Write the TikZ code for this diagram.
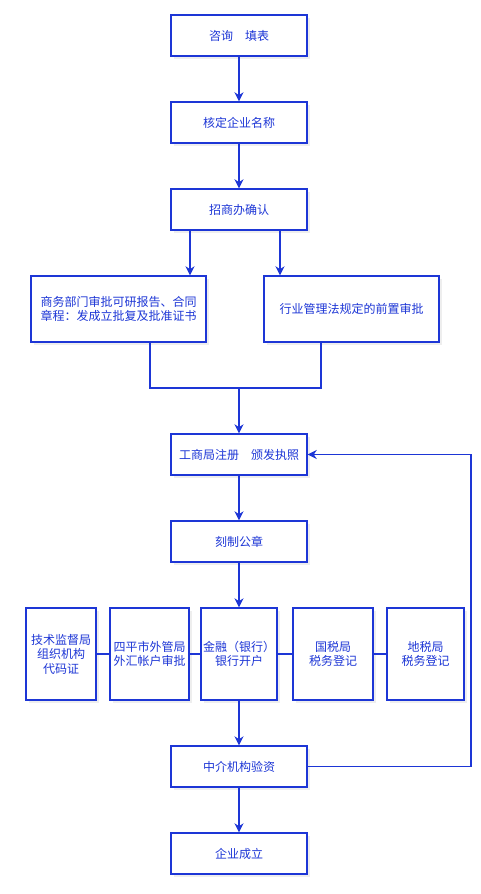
\documentclass[tikz,border=0pt]{standalone}
\usepackage{fontspec}
\setmainfont{Noto Sans CJK SC}
\usetikzlibrary{arrows.meta, positioning, calc, shadows}
\definecolor{fblue}{HTML}{1D36D6}
\tikzset{
  >=Stealth,
  font=\fontsize{12}{14.5}\selectfont,
  box/.style={
    draw=fblue, fill=white, line width=1.4pt, text=fblue,
    align=center, inner sep=1pt, minimum width=#1,
    drop shadow={opacity=0.13, shadow xshift=2.5pt, shadow yshift=-2.5pt}
  },
  box/.default=136pt,
  wide/.style={box=175pt, minimum height=66pt},
  tall/.style={box=#1, minimum height=92pt},
  short/.style={box=136pt, minimum height=41pt},
  arr/.style={-{Stealth[length=9pt,width=9pt]}, line width=1.4pt, draw=fblue},
  link/.style={line width=1.4pt, draw=fblue}
}
\begin{document}
\begin{tikzpicture}[x=1pt,y=-1pt]
  \useasboundingbox[fill=white] (0,0) rectangle (480,894);
  \node[short] (zx) at (239,35.5) {咨询\quad 填表};
  \node[short] (hd) at (239,122.5) {核定企业名称};
  \node[short] (zs) at (239,209.5) {招商办确认};
  \node[wide] (sw) at (118.5,309) {商务部门审批可研报告、合同\\章程：发成立批复及批准证书};
  \node[wide] (hy) at (351.5,309) {行业管理法规定的前置审批};
  \node[short] (gs) at (239,454.5) {工商局注册\quad 颁发执照};
  \node[short] (kz) at (239,541.5) {刻制公章};
  \node[tall=70pt] (js) at (61,654) {技术监督局\\组织机构\\代码证};
  \node[tall=79pt] (wg) at (149.5,654) {四平市外管局\\外汇帐户审批};
  \node[tall=76pt] (jr) at (239,654) {金融（银行）\\银行开户};
  \node[tall=80pt] (gsj) at (333,654) {国税局\\税务登记};
  \node[tall=77pt] (dsj) at (425.5,654) {地税局\\税务登记};
  \node[short] (zj) at (239,766.5) {中介机构验资};
  \node[short] (cl) at (239,853.5) {企业成立};

  \coordinate (m1) at (190,0);
  \coordinate (m2) at (280,0);
  \coordinate (a1) at (150,0);
  \coordinate (a2) at (321,0);
  \coordinate (j) at (239,388);
  \coordinate (turn) at (471,766.5);

  \draw[arr] (zx) -- (hd);
  \draw[arr] (hd) -- (zs);
  \draw[arr] (zs.south -| m1) -- (sw.north -| m1);
  \draw[arr] (zs.south -| m2) -- (hy.north -| m2);
  \draw[link] (sw.south -| a1) |- (j) -| (hy.south -| a2);
  \draw[arr] (j) -- (gs);
  \draw[arr] (gs) -- (kz);
  \draw[arr] (kz) -- (jr);
  \draw[link] (js) -- (wg) (wg) -- (jr) (jr) -- (gsj) (gsj) -- (dsj);
  \draw[arr] (jr) -- (zj);
  \draw[arr] (zj) -- (cl);
  \draw[arr] (zj.east) -- (turn) |- (gs.east);
\end{tikzpicture}
\end{document}
